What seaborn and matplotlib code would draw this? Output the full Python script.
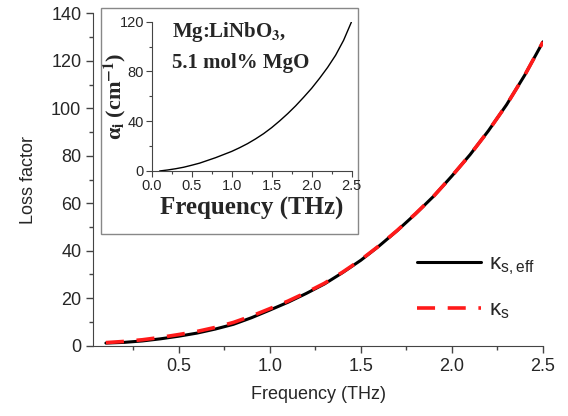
import numpy as np
import pandas as pd
import matplotlib
matplotlib.use('Agg')
import matplotlib.pyplot as plt
from matplotlib.patches import Rectangle
from matplotlib.ticker import MultipleLocator
import seaborn as sns

# frequency grid (THz)
freq = [0.1, 0.2, 0.3, 0.4, 0.5, 0.6, 0.7, 0.8, 0.9, 1.0, 1.1, 1.2, 1.3,
        1.4, 1.5, 1.6, 1.7, 1.8, 1.9, 2.0, 2.1, 2.2, 2.3, 2.4, 2.5]
# main plot: loss factors
kappa_eff = [1.1, 1.4, 2.0, 2.9, 4.0, 5.3, 7.0, 9.0, 11.8, 15.0, 18.3, 22.0, 26.0,
             30.8, 36.0, 42.0, 48.5, 55.5, 63.0, 71.5, 80.5, 90.5, 101.5, 114.0, 128.0]
kappa_s = [1.3, 1.8, 2.5, 3.5, 4.7, 6.0, 7.7, 9.8, 12.5, 15.6, 18.8, 22.4, 26.3,
           31.0, 36.2, 42.1, 48.6, 55.6, 63.0, 71.5, 80.5, 90.5, 101.5, 114.0, 128.0]
# inset: absorption coefficient (cm^-1)
alpha_i = [0.0, 0.8, 1.8, 3.0, 4.6, 6.3, 8.5, 10.7, 13.2, 15.7, 18.7, 22.0, 25.8,
           30.0, 34.8, 40.2, 46.0, 52.3, 59.2, 66.4, 74.5, 83.2, 93.0, 105.0, 120.0]

df = pd.DataFrame({'freq': freq, 'eff': kappa_eff, 'ks': kappa_s, 'alpha': alpha_i})

sns.set_style('ticks')
plt.rcParams['font.family'] = ['Liberation Sans', 'DejaVu Sans']
plt.rcParams['mathtext.default'] = 'regular'

fig = plt.figure(figsize=(5.68, 4.16), dpi=100)
ax = fig.add_axes([0.164, 0.169, 0.792, 0.799])

sns.lineplot(data=df, x='freq', y='eff', ax=ax, color='black', lw=2.2,
             label=r'$\kappa_{s,eff}$')
sns.lineplot(data=df, x='freq', y='ks', ax=ax, color='#ff1a1a', lw=2.6,
             dashes=False, label=r'$\kappa_s$')
ax.lines[1].set_dashes([5, 3.5])

ax.set_xlim(0.03, 2.5)
ax.set_ylim(0, 140)
ax.xaxis.set_major_locator(MultipleLocator(0.5))
ax.xaxis.set_minor_locator(MultipleLocator(0.25))
ax.yaxis.set_major_locator(MultipleLocator(20))
ax.yaxis.set_minor_locator(MultipleLocator(10))
ax.tick_params(which='major', length=5, width=1, labelsize=13, color='#444444')
ax.tick_params(which='minor', length=3, width=1, color='#444444')
for s in ['top', 'right']:
    ax.spines[s].set_visible(False)
for s in ['left', 'bottom']:
    ax.spines[s].set_color('#444444')
ax.set_xlabel('Frequency (THz)', fontsize=13, labelpad=8)
ax.set_ylabel('Loss factor', fontsize=13, labelpad=10)

leg = ax.legend(loc='center left', bbox_to_anchor=(0.675, 0.175), frameon=False,
                fontsize=16, handlelength=2.9, labelspacing=1.0, handletextpad=0.35)

# inset frame
fig.patches.append(Rectangle((0.178, 0.4375), 0.452, 0.5435, transform=fig.transFigure,
                             fill=True, facecolor='white', edgecolor='#888888', lw=1.0,
                             zorder=2))

ins = fig.add_axes([0.267, 0.589, 0.352, 0.359])
ins.set_zorder(3)
sns.lineplot(data=df, x='freq', y='alpha', ax=ins, color='black', lw=1.0)
ins.set_xlim(0, 2.5)
ins.set_ylim(0, 120)
ins.xaxis.set_major_locator(MultipleLocator(0.5))
ins.xaxis.set_minor_locator(MultipleLocator(0.25))
ins.yaxis.set_major_locator(MultipleLocator(40))
ins.yaxis.set_minor_locator(MultipleLocator(20))
ins.tick_params(which='major', length=4, width=0.8, labelsize=10.5, pad=1.5, color='#444444')
ins.tick_params(which='minor', length=2, width=0.8, color='#444444')
for s in ['top', 'right']:
    ins.spines[s].set_visible(False)
for s in ['left', 'bottom']:
    ins.spines[s].set_color('#444444')
    ins.spines[s].set_linewidth(0.8)
ins.patch.set_alpha(0)
ins.set_xlabel('Frequency (THz)', fontsize=18, fontweight='bold',
               family='Liberation Serif', labelpad=3)
ins.set_ylabel(r'α$_\mathbf{i}$ (cm$^\mathbf{-1}$)', fontsize=16, fontweight='bold',
               family='Liberation Serif', math_fontfamily='stix', labelpad=-6)
ins.text(0.10, 0.897, r'Mg:LiNbO$_\mathbf{3}$,', transform=ins.transAxes, fontsize=15,
         fontweight='bold', family='Liberation Serif', math_fontfamily='stix',
         va='baseline')
ins.text(0.10, 0.69, '5.1 mol% MgO', transform=ins.transAxes, fontsize=15,
         fontweight='bold', family='Liberation Serif', va='baseline')

fig.savefig('out.png', dpi=100)
